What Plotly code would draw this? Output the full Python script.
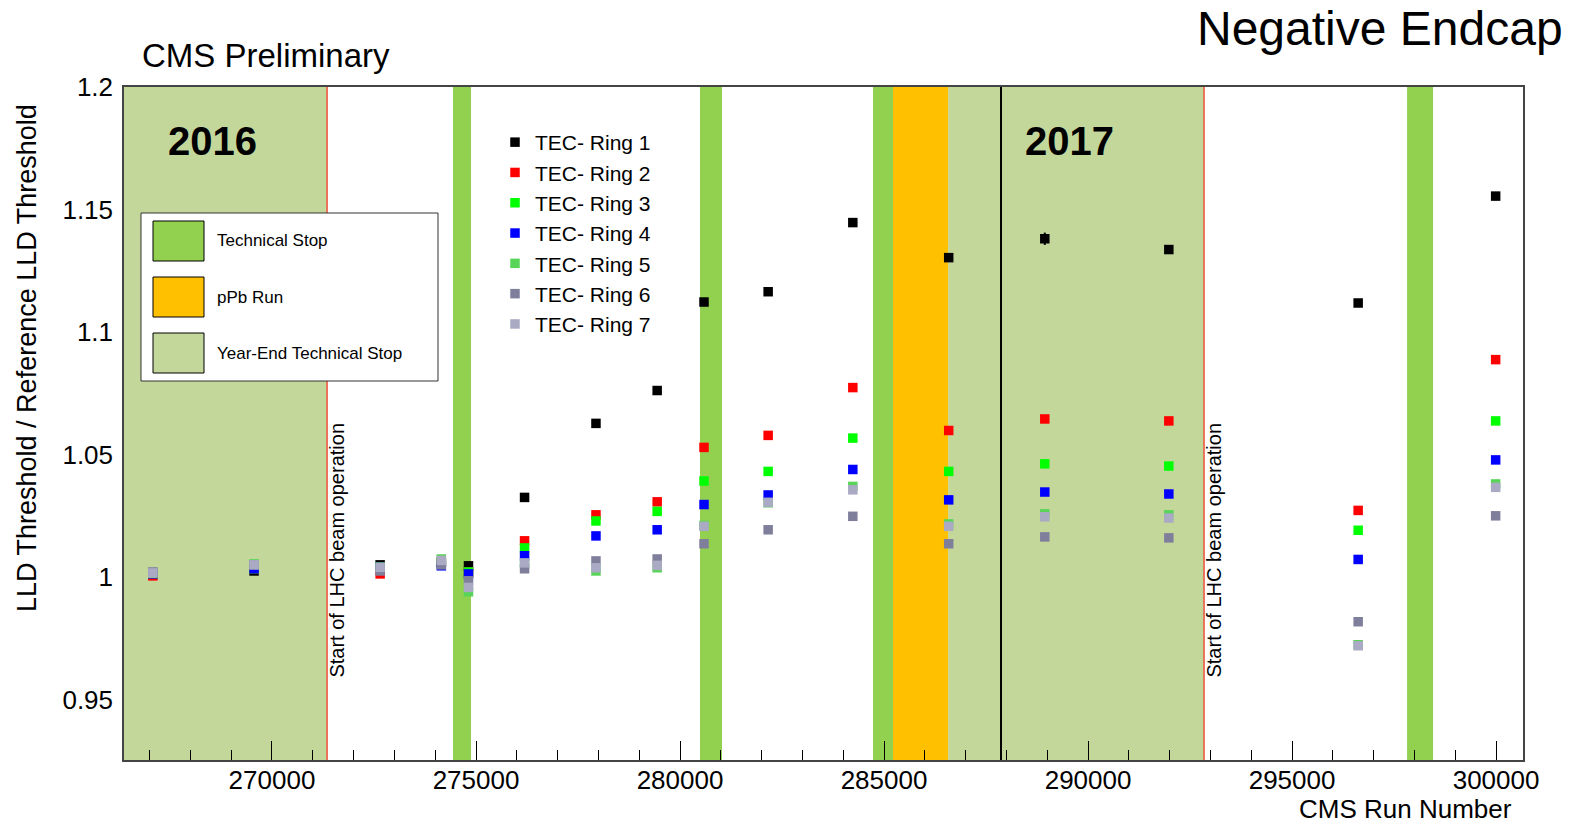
import plotly.graph_objects as go

# ---------------- data ----------------
runs = [267080, 269560, 272650, 274150, 274816, 276190, 277940, 279440,
        280588, 282160, 284235, 286585, 288940, 291980, 296620, 299990]

ring1 = [1.0016, 1.0026, 1.0051, 1.0061, 1.0047, 1.0326, 1.0628, 1.0762,
         1.1123, 1.1165, 1.1447, 1.1304, 1.1381, 1.1337, 1.1119, 1.1555]
ring1_err = [0, 0, 0, 0, 0, 0, 0, 0, 0, 0, 0, 0, 0.0025, 0, 0, 0]
ring2 = [1.0006, 1.0035, 1.0014, 1.0061, 1.0022, 1.0149, 1.0255, 1.0308,
         1.0530, 1.0579, 1.0774, 1.0599, 1.0646, 1.0638, 1.0273, 1.0888]
ring3 = [1.0016, 1.0035, 1.0041, 1.0061, 1.0022, 1.0120, 1.0230, 1.0269,
         1.0393, 1.0432, 1.0568, 1.0432, 1.0463, 1.0454, 1.0192, 1.0638]
ring4 = [1.0014, 1.0035, 1.0041, 1.0047, 1.0014, 1.0088, 1.0169, 1.0194,
         1.0297, 1.0336, 1.0440, 1.0316, 1.0348, 1.0340, 1.0073, 1.0479]
ring5 = [1.0016, 1.0055, 1.0041, 1.0075, 0.9941, 1.0055, 1.0026, 1.0039,
         1.0212, 1.0304, 1.0371, 1.0218, 1.0259, 1.0255, 0.9725, 1.0381]
ring6 = [1.0022, 1.0051, 1.0026, 1.0051, 0.9986, 1.0035, 1.0067, 1.0075,
         1.0137, 1.0194, 1.0249, 1.0137, 1.0165, 1.0161, 0.9819, 1.0251]
ring7 = [1.0018, 1.0051, 1.0041, 1.0069, 0.9959, 1.0059, 1.0039, 1.0049,
         1.0208, 1.0306, 1.0357, 1.0208, 1.0247, 1.0242, 0.9721, 1.0367]

ring_names = ["TEC- Ring 1", "TEC- Ring 2", "TEC- Ring 3", "TEC- Ring 4",
              "TEC- Ring 5", "TEC- Ring 6", "TEC- Ring 7"]
ring_colors = ["#000000", "#ff0000", "#00ff00", "#0000ff",
               "#58d558", "#7f7f9c", "#aaaac4"]

# shaded periods (run ranges)
technical_stops = [(274436, 274877), (280490, 281029), (284730, 285220), (297819, 298456)]
ppb_runs = [(285220, 286570)]
year_end_stops = [(266373, 271350), (286570, 292843)]
lhc_start_runs = [271350, 292843]
year_boundary_run = 287867

x_range = [266373, 300660]
y_range = [0.9255, 1.2]

C_TS = "#92d050"
C_PPB = "#ffc000"
C_YE = "#c4d79b"

# ---------------- figure ----------------
W, H = 1570, 824
L, R, T, B = 124, 1523, 87, 760


def pxx(px):
    return (px - L) / (R - L)


def pxy(py):
    return (B - py) / (B - T)


FONT = "Liberation Sans, Arial, sans-serif"

fig = go.Figure()
all_rings = [ring1, ring2, ring3, ring4, ring5, ring6, ring7]
for i, (name, col, vals) in enumerate(zip(ring_names, ring_colors, all_rings)):
    kw = {}
    if i == 0:
        kw["error_y"] = dict(type="data", array=ring1_err, color="#000000",
                             thickness=2, width=0)
    fig.add_trace(go.Scatter(
        x=runs, y=vals, mode="markers", name=name,
        marker=dict(symbol="square", size=9.5, color=col, line=dict(width=0)),
        **kw))

shapes = []
for x0, x1 in year_end_stops:
    shapes.append(dict(type="rect", xref="x", yref="paper", x0=x0, x1=x1, y0=0, y1=1,
                       fillcolor=C_YE, line=dict(width=0), layer="below"))
for x0, x1 in technical_stops:
    shapes.append(dict(type="rect", xref="x", yref="paper", x0=x0, x1=x1, y0=0, y1=1,
                       fillcolor=C_TS, line=dict(width=0), layer="below"))
for x0, x1 in ppb_runs:
    shapes.append(dict(type="rect", xref="x", yref="paper", x0=x0, x1=x1, y0=0, y1=1,
                       fillcolor=C_PPB, line=dict(width=0), layer="below"))
for xr in lhc_start_runs:
    shapes.append(dict(type="line", xref="x", yref="paper", x0=xr, x1=xr, y0=0, y1=1,
                       line=dict(color="#f0503c", width=1.5), layer="below"))
shapes.append(dict(type="line", xref="x", yref="paper", x0=year_boundary_run,
                   x1=year_boundary_run, y0=0, y1=1,
                   line=dict(color="#000000", width=2), layer="below"))

# band legend box
shapes.append(dict(type="rect", xref="paper", yref="paper",
                   x0=pxx(141), x1=pxx(438), y0=pxy(381), y1=pxy(213),
                   fillcolor="#ffffff", line=dict(color="#333333", width=1), layer="above"))
band_labels = ["Technical Stop", "pPb Run", "Year-End Technical Stop"]
band_colors = [C_TS, C_PPB, C_YE]
band_tops = [221, 277, 333]
annotations = []
for lab, col, top in zip(band_labels, band_colors, band_tops):
    shapes.append(dict(type="rect", xref="paper", yref="paper",
                       x0=pxx(153), x1=pxx(204), y0=pxy(top + 40), y1=pxy(top),
                       fillcolor=col, line=dict(color="#000000", width=1), layer="above"))
    annotations.append(dict(xref="paper", yref="paper", x=pxx(215), y=pxy(top + 20),
                            text=lab, showarrow=False, xanchor="left", yanchor="middle",
                            font=dict(family=FONT, size=17, color="#000000")))

# year labels
annotations.append(dict(xref="paper", yref="paper", x=pxx(212), y=pxy(141),
                        text="<b>2016</b>", showarrow=False, xanchor="center", yanchor="middle",
                        font=dict(family=FONT, size=40, color="#000000")))
annotations.append(dict(xref="paper", yref="paper", x=pxx(1069), y=pxy(141),
                        text="<b>2017</b>", showarrow=False, xanchor="center", yanchor="middle",
                        font=dict(family=FONT, size=40, color="#000000")))

# LHC start labels
for xr in lhc_start_runs:
    annotations.append(dict(xref="x", yref="paper", x=xr, y=pxy(680),
                            text="Start of LHC beam operation", showarrow=False,
                            textangle=-90, xanchor="left", yanchor="bottom",
                            xshift=-4, font=dict(family=FONT, size=20, color="#000000")))

# titles
annotations.append(dict(xref="paper", yref="paper", x=pxx(140), y=pxy(56),
                        text="CMS Preliminary", showarrow=False, xanchor="left", yanchor="middle",
                        font=dict(family=FONT, size=33, color="#000000")))
annotations.append(dict(xref="paper", yref="paper", x=pxx(1565), y=pxy(28),
                        text="Negative Endcap", showarrow=False, xanchor="right", yanchor="middle",
                        font=dict(family=FONT, size=48, color="#000000")))
annotations.append(dict(xref="paper", yref="paper", x=pxx(1514), y=pxy(809),
                        text="CMS Run Number", showarrow=False, xanchor="right", yanchor="middle",
                        font=dict(family=FONT, size=26, color="#000000")))
annotations.append(dict(xref="paper", yref="paper", x=pxx(27), y=pxy(358),
                        text="LLD Threshold / Reference LLD Threshold", showarrow=False,
                        textangle=-90, xanchor="center", yanchor="middle",
                        font=dict(family=FONT, size=27, color="#000000")))

fig.update_layout(
    width=W, height=H,
    margin=dict(l=L, r=W - R, t=T, b=H - B, pad=0),
    paper_bgcolor="#ffffff", plot_bgcolor="#ffffff",
    font=dict(family=FONT, size=26, color="#000000"),
    shapes=shapes, annotations=annotations,
    showlegend=True,
    legend=dict(x=pxx(495), y=pxy(122), xanchor="left", yanchor="top",
                bgcolor="rgba(0,0,0,0)", borderwidth=0,
                font=dict(family=FONT, size=21, color="#000000"),
                tracegroupgap=0),
    xaxis=dict(range=x_range, showgrid=False, zeroline=False,
               showline=True, linecolor="#444444", linewidth=1.5, mirror=True,
               ticks="inside", ticklen=19, tickwidth=1, tickcolor="#000000",
               tickmode="linear", tick0=270000, dtick=5000, tickformat="d",
               ticklabelstandoff=-4,
               minor=dict(ticks="inside", ticklen=10, dtick=1000, tickcolor="#000000",
                          showgrid=False),
               tickfont=dict(family=FONT, size=26)),
    yaxis=dict(range=y_range, showgrid=False, zeroline=False,
               showline=True, linecolor="#444444", linewidth=1.5, mirror=True,
               ticks="", tickmode="array",
               tickvals=[0.95, 1.0, 1.05, 1.1, 1.15, 1.2],
               ticktext=["0.95", "1", "1.05", "1.1", "1.15", "1.2"],
               ticklabelstandoff=4,
               tickfont=dict(family=FONT, size=26)),
)

fig.write_html("out.html")
